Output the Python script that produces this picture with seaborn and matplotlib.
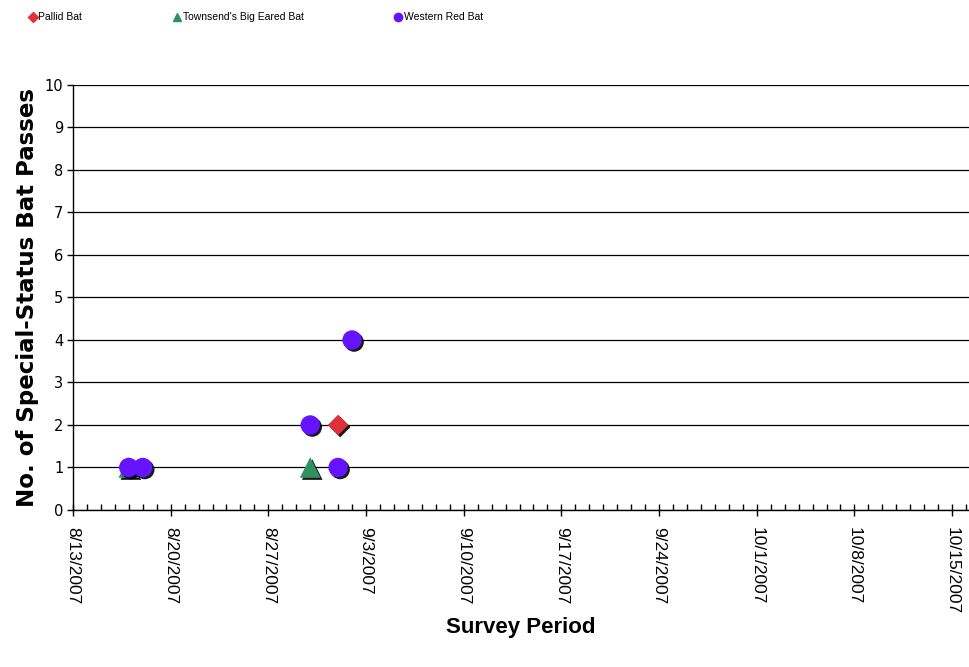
import pandas as pd
import matplotlib
matplotlib.use("Agg")
import matplotlib.pyplot as plt
import matplotlib.dates as mdates
import matplotlib.patheffects as pe
import seaborn as sns

# data
pallid_dates = ["2007-09-01"]
pallid_counts = [2]
townsend_dates = ["2007-08-17", "2007-08-30"]
townsend_counts = [1, 1]
western_dates = ["2007-08-17", "2007-08-18", "2007-08-30", "2007-09-01", "2007-09-02"]
western_counts = [1, 1, 2, 1, 4]

species = ["Pallid Bat", "Townsend's Big Eared Bat", "Western Red Bat"]
colors = ["#E0303A", "#2E9260", "#6414FF"]
markers = ["D", "^", "o"]
sizes = [110, 220, 195]

rows = []
for name, d, c in zip(species, [pallid_dates, townsend_dates, western_dates],
                      [pallid_counts, townsend_counts, western_counts]):
    for di, ci in zip(d, c):
        rows.append({"date": pd.Timestamp(di), "count": ci, "species": name})
df = pd.DataFrame(rows)

sns.set_style("white")
plt.rcParams['font.family'] = ['Liberation Sans', 'DejaVu Sans']
plt.rcParams['text.color'] = 'black'
plt.rcParams['axes.labelcolor'] = 'black'
plt.rcParams['xtick.color'] = 'black'
plt.rcParams['ytick.color'] = 'black'

fig = plt.figure(figsize=(9.69, 6.67), dpi=100)
ax = fig.add_axes([0.0753, 0.2354, 0.9247, 0.6372])

handles = []
for i, name in enumerate(species):
    sub = df[df["species"] == name]
    sns.scatterplot(data=sub, x="date", y="count", ax=ax, color=colors[i],
                    marker=markers[i], s=sizes[i], edgecolor="none", zorder=3 + i,
                    legend=False)
    coll = ax.collections[-1]
    coll.set_path_effects([pe.SimplePatchShadow(offset=(1.5, -1.5), shadow_rgbFace="black", alpha=0.9),
                           pe.Normal()])
    handles.append(plt.Line2D([], [], linestyle="none", marker=markers[i], color=colors[i],
                              markersize=6 if markers[i] != "D" else 5))

ax.set_ylim(0, 10)
ax.set_yticks(range(0, 11))
ax.set_xlim(pd.Timestamp("2007-08-13"), pd.Timestamp("2007-10-16 05:00"))
ax.set_xticks(pd.date_range("2007-08-13", "2007-10-15", freq="7D"))
ax.xaxis.set_minor_locator(mdates.DayLocator())
ax.xaxis.set_major_formatter(plt.FuncFormatter(
    lambda v, p: "{d.month}/{d.day}/{d.year}".format(d=mdates.num2date(v))))

ax.grid(axis="y", color="black", linewidth=0.9)
ax.set_axisbelow(True)
for s in ["top", "right"]:
    ax.spines[s].set_visible(False)
for s in ["left", "bottom"]:
    ax.spines[s].set_color("black")
    ax.spines[s].set_linewidth(1.0)

ax.tick_params(axis="x", which="major", direction="inout", length=9, width=1, labelsize=12.5,
               labelrotation=270, pad=8, bottom=True)
ax.tick_params(axis="x", which="minor", direction="in", length=4, width=1, bottom=True)
ax.tick_params(axis="y", which="major", direction="out", length=4, width=1, pad=3, left=True)
for lab in ax.get_xticklabels():
    lab.set_verticalalignment("top")
    lab.set_horizontalalignment("center")
for lab in ax.get_yticklabels():
    lab.set_fontfamily("DejaVu Sans")
    lab.set_fontsize(10.5)

ax.set_xlabel("Survey Period", fontsize=16, fontweight="bold", labelpad=2)
ax.set_ylabel("No. of Special-Status Bat Passes", fontsize=16.5, fontweight="bold",
              family="DejaVu Sans", labelpad=4)

fig.legend(handles, species, loc="upper left", bbox_to_anchor=(0.025, 0.988), ncol=3,
           frameon=False, fontsize=7.5, handlelength=0.8, handletextpad=0.15,
           columnspacing=8.7, borderaxespad=0)

fig.savefig("out.png", dpi=100)
